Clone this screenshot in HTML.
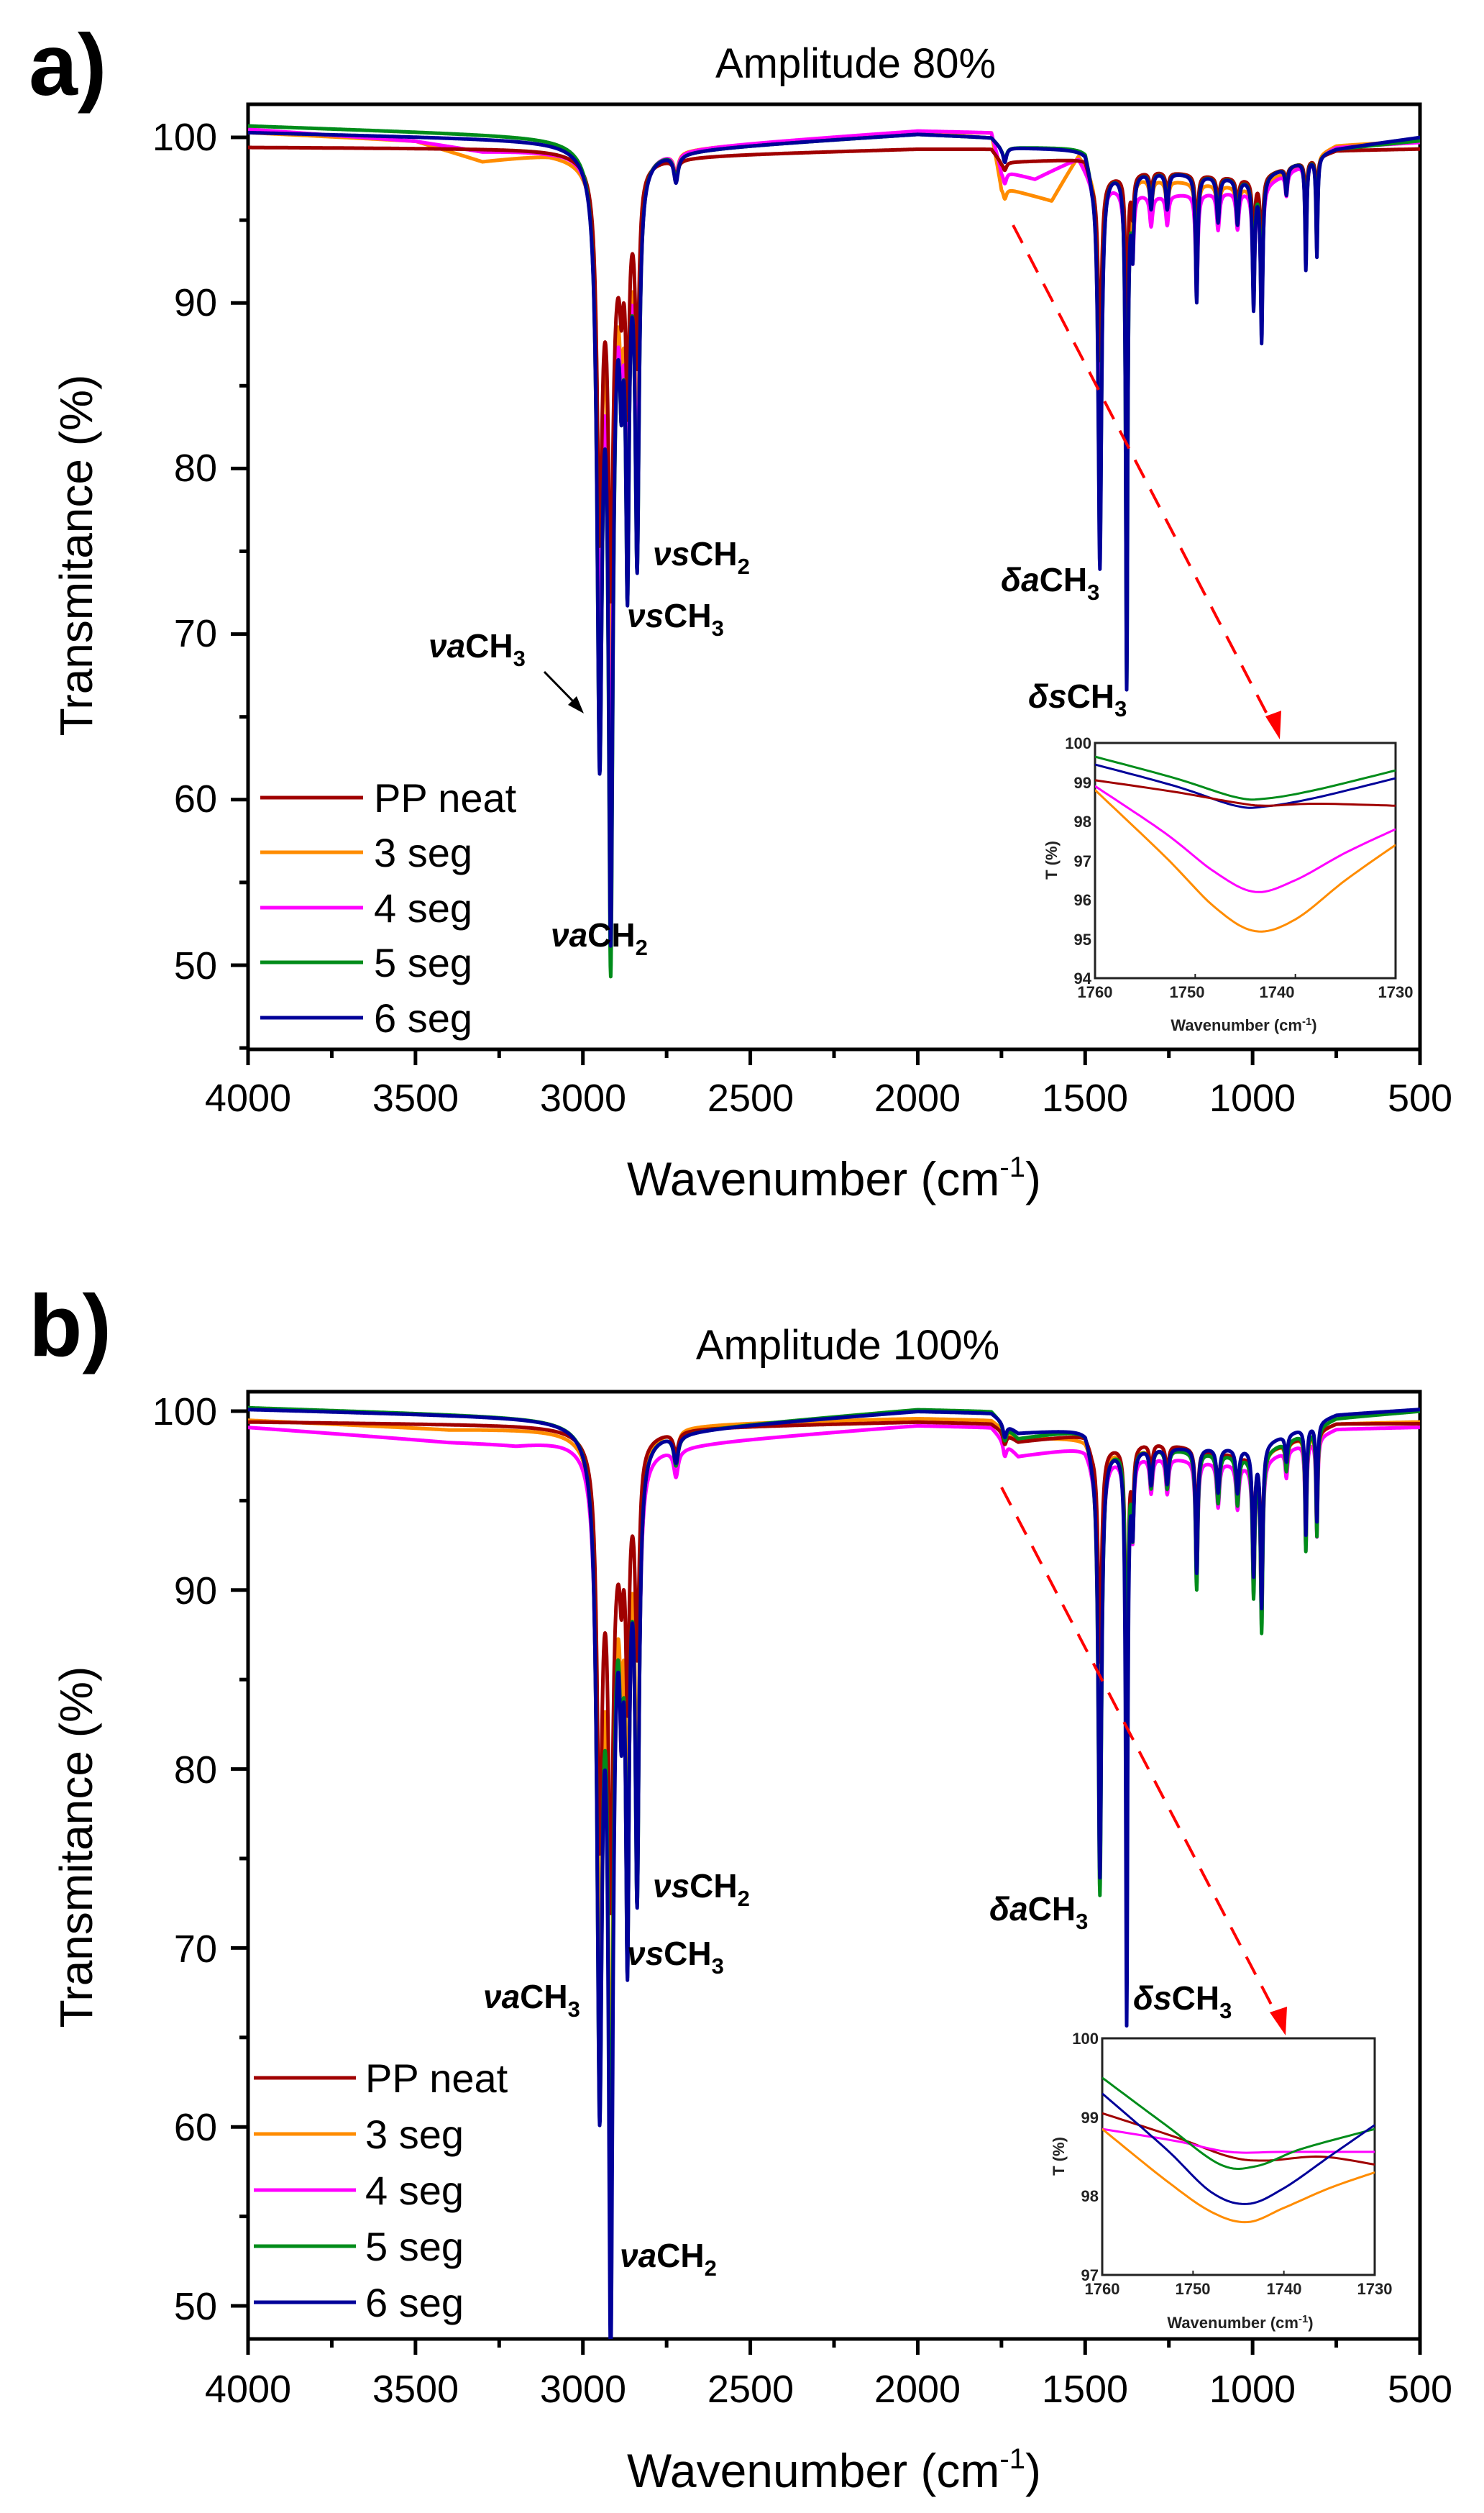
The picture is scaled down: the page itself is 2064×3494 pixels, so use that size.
<!DOCTYPE html>
<html><head><meta charset="utf-8">
<style>
html,body{margin:0;padding:0;background:#fff;}
svg{display:block;font-family:"Liberation Sans",Arial,sans-serif;}
</style></head>
<body>
<svg id="s" width="2064" height="3494" viewBox="0 0 2064 3494" xmlns="http://www.w3.org/2000/svg">
<defs>
<clipPath id="ca"><rect x="345" y="145" width="1630" height="1314"/></clipPath>
<clipPath id="cb"><rect x="345" y="1935" width="1630" height="1317"/></clipPath>
<clipPath id="cia"><rect x="1523" y="1033" width="418" height="327"/></clipPath>
<clipPath id="cib"><rect x="1533" y="2834" width="379" height="329"/></clipPath>
</defs>

<text x="40" y="132" font-size="122" font-weight="bold">a)</text>
<text x="1190" y="108" font-size="58" text-anchor="middle">Amplitude 80%</text>
<text transform="translate(128,772) rotate(-90)" font-size="64" text-anchor="middle">Transmitance (%)</text>
<text x="1160" y="1662" font-size="66" text-anchor="middle">Wavenumber (cm<tspan dy="-26" font-size="40">-1</tspan><tspan dy="26">)</tspan></text>

<text x="40" y="1885" font-size="122" font-weight="bold">b)</text>
<text x="1179" y="1890" font-size="58" text-anchor="middle">Amplitude 100%</text>
<text transform="translate(128,2568) rotate(-90)" font-size="64" text-anchor="middle">Transmitance (%)</text>
<text x="1160" y="3458" font-size="66" text-anchor="middle">Wavenumber (cm<tspan dy="-26" font-size="40">-1</tspan><tspan dy="26">)</tspan></text>

<g id="axes"></g>
<g id="data"></g>

<g font-size="46" font-weight="bold">
<text x="908" y="786"><tspan font-style="italic">νs</tspan>CH<tspan dy="12" font-size="31">2</tspan></text>
<text x="872" y="872"><tspan font-style="italic">νs</tspan>CH<tspan dy="12" font-size="31">3</tspan></text>
<text x="596" y="914"><tspan font-style="italic">νa</tspan>CH<tspan dy="12" font-size="31">3</tspan></text>
<text x="766" y="1316"><tspan font-style="italic">νa</tspan>CH<tspan dy="12" font-size="31">2</tspan></text>
<text x="1392" y="822"><tspan font-style="italic">δa</tspan>CH<tspan dy="12" font-size="31">3</tspan></text>
<text x="1430" y="984"><tspan font-style="italic">δs</tspan>CH<tspan dy="12" font-size="31">3</tspan></text>
</g>
<line x1="757" y1="934" x2="800" y2="978" stroke="#000" stroke-width="3"/>
<polygon points="812,992 790,980 802,968" fill="#000"/>

<g font-size="46" font-weight="bold">
<text x="908" y="2638"><tspan font-style="italic">νs</tspan>CH<tspan dy="12" font-size="31">2</tspan></text>
<text x="872" y="2732"><tspan font-style="italic">νs</tspan>CH<tspan dy="12" font-size="31">3</tspan></text>
<text x="672" y="2792"><tspan font-style="italic">νa</tspan>CH<tspan dy="12" font-size="31">3</tspan></text>
<text x="862" y="3152"><tspan font-style="italic">νa</tspan>CH<tspan dy="12" font-size="31">2</tspan></text>
<text x="1376" y="2670"><tspan font-style="italic">δa</tspan>CH<tspan dy="12" font-size="31">3</tspan></text>
<text x="1576" y="2794"><tspan font-style="italic">δs</tspan>CH<tspan dy="12" font-size="31">3</tspan></text>
</g>

<line x1="1409" y1="313" x2="1768" y2="1004" stroke="#ff0000" stroke-width="4" stroke-dasharray="28,18"/>
<polygon points="1780,1028 1760,996 1782,988" fill="#ff0000"/>
<line x1="1393" y1="2068" x2="1778" y2="2806" stroke="#ff0000" stroke-width="4" stroke-dasharray="28,18"/>
<polygon points="1788,2830 1766,2798 1790,2790" fill="#ff0000"/>

<g font-size="56">
<line x1="362" y1="1109" x2="505" y2="1109" stroke="#a00000" stroke-width="5"/><text x="520" y="1129">PP neat</text>
<line x1="362" y1="1185" x2="505" y2="1185" stroke="#ff8c00" stroke-width="5"/><text x="520" y="1205">3 seg</text>
<line x1="362" y1="1262" x2="505" y2="1262" stroke="#ff00ff" stroke-width="5"/><text x="520" y="1282">4 seg</text>
<line x1="362" y1="1338" x2="505" y2="1338" stroke="#008c1a" stroke-width="5"/><text x="520" y="1358">5 seg</text>
<line x1="362" y1="1415" x2="505" y2="1415" stroke="#000099" stroke-width="5"/><text x="520" y="1435">6 seg</text>

<line x1="353" y1="2889" x2="495" y2="2889" stroke="#a00000" stroke-width="5"/><text x="508" y="2909">PP neat</text>
<line x1="353" y1="2967" x2="495" y2="2967" stroke="#ff8c00" stroke-width="5"/><text x="508" y="2987">3 seg</text>
<line x1="353" y1="3045" x2="495" y2="3045" stroke="#ff00ff" stroke-width="5"/><text x="508" y="3065">4 seg</text>
<line x1="353" y1="3123" x2="495" y2="3123" stroke="#008c1a" stroke-width="5"/><text x="508" y="3143">5 seg</text>
<line x1="353" y1="3201" x2="495" y2="3201" stroke="#000099" stroke-width="5"/><text x="508" y="3221">6 seg</text>
</g>

<rect x="1523" y="1033" width="418" height="327" fill="#fff" stroke="#222" stroke-width="3"/>
<rect x="1533" y="2834" width="379" height="329" fill="#fff" stroke="#222" stroke-width="3"/>
<g id="inset"></g>
<g font-size="22" font-weight="bold" fill="#222">
<text x="1518" y="1041" text-anchor="end">100</text>
<text x="1518" y="1096" text-anchor="end">99</text>
<text x="1518" y="1150" text-anchor="end">98</text>
<text x="1518" y="1205" text-anchor="end">97</text>
<text x="1518" y="1259" text-anchor="end">96</text>
<text x="1518" y="1314" text-anchor="end">95</text>
<text x="1518" y="1368" text-anchor="end">94</text>
<text x="1523" y="1387" text-anchor="middle">1760</text>
<text x="1651" y="1387" text-anchor="middle">1750</text>
<text x="1776" y="1387" text-anchor="middle">1740</text>
<text x="1941" y="1387" text-anchor="middle">1730</text>
<text x="1730" y="1433" text-anchor="middle">Wavenumber (cm<tspan dy="-8" font-size="15">-1</tspan><tspan dy="8">)</tspan></text>
<text transform="translate(1470,1196) rotate(-90)" text-anchor="middle">T (%)</text>

<text x="1528" y="2842" text-anchor="end">100</text>
<text x="1528" y="2952" text-anchor="end">99</text>
<text x="1528" y="3061" text-anchor="end">98</text>
<text x="1528" y="3171" text-anchor="end">97</text>
<text x="1533" y="3190" text-anchor="middle">1760</text>
<text x="1659" y="3190" text-anchor="middle">1750</text>
<text x="1786" y="3190" text-anchor="middle">1740</text>
<text x="1912" y="3190" text-anchor="middle">1730</text>
<text x="1725" y="3237" text-anchor="middle">Wavenumber (cm<tspan dy="-8" font-size="15">-1</tspan><tspan dy="8">)</tspan></text>
<text transform="translate(1480,2998) rotate(-90)" text-anchor="middle">T (%)</text>
</g>

<g font-size="54" text-anchor="end">
<text x="302" y="209">100</text><text x="302" y="439">90</text><text x="302" y="669">80</text><text x="302" y="899">70</text><text x="302" y="1129">60</text><text x="302" y="1361">50</text>
<text x="302" y="1981">100</text><text x="302" y="2230">90</text><text x="302" y="2479">80</text><text x="302" y="2728">70</text><text x="302" y="2976">60</text><text x="302" y="3225">50</text>
</g>
<g font-size="54" text-anchor="middle">
<text x="345" y="1545">4000</text><text x="578" y="1545">3500</text><text x="811" y="1545">3000</text><text x="1044" y="1545">2500</text><text x="1276" y="1545">2000</text><text x="1509" y="1545">1500</text><text x="1742" y="1545">1000</text><text x="1975" y="1545">500</text>
<text x="345" y="3340">4000</text><text x="578" y="3340">3500</text><text x="811" y="3340">3000</text><text x="1044" y="3340">2500</text><text x="1276" y="3340">2000</text><text x="1509" y="3340">1500</text><text x="1742" y="3340">1000</text><text x="1975" y="3340">500</text>
</g>
</svg>
<script>
(function(){
var NS="http://www.w3.org/2000/svg";
function el(parent,tag,attrs){var e=document.createElementNS(NS,tag);for(var k in attrs)e.setAttribute(k,attrs[k]);parent.appendChild(e);return e;}
var axes=document.getElementById('axes'),data=document.getElementById('data'),inset=document.getElementById('inset');
var X0=345,X1=1975;
function xm(w){return X0+(4000-w)/3500*(X1-X0);}
var P=[{top:145,bot:1459,y100:191,y50:1342,clip:'ca'},{top:1935,bot:3252,y100:1962,y50:3206,clip:'cb'}];
P.forEach(function(p){
  el(axes,'rect',{x:X0,y:p.top,width:X1-X0,height:p.bot-p.top,fill:'none',stroke:'#000','stroke-width':5});
  for(var w=4000;w>=500;w-=250){var x=xm(w);var major=(w%500==0);el(axes,'line',{x1:x,y1:p.bot,x2:x,y2:p.bot+(major?22:12),stroke:'#000','stroke-width':5});}
  var per=(p.y50-p.y100)/50;
  for(var v=45;v<=100;v+=5){var y=p.y100+(100-v)*per;if(y>p.bot||y<p.top)continue;var major=(v%10==0);el(axes,'line',{x1:X0,y1:y,x2:X0-(major?24:12),y2:y,stroke:'#000','stroke-width':5});}
});
function interp(pts,w){for(var i=0;i<pts.length-1;i++){var a=pts[i],b=pts[i+1];if(w<=a[0]&&w>=b[0]){var t=(a[0]-w)/(a[0]-b[0]);return a[1]+(b[1]-a[1])*t;}}return pts[pts.length-1][1];}
var fpPeaks=[[2722,1.5,8],[1740,0.8,6],[1358,4,4],[1303,2,5],[1255,2,5],[1167,7,4],[1103,2.5,5],[1045,2.5,5],[997,7,4],[973,9,4],[899,1.5,4],[841,6,3],[808,5.5,3]];
function spec(base,st,de,fp){
  var pk=[[2950,st[0],9],[2917,st[1],8],[2867,st[2],6],[2838,st[3],7],[2885,st[2]*0.35,6],[2900,4,40],[1456,de[0],6],[1376,de[1],3.5]];
  fpPeaks.forEach(function(q){pk.push([q[0],q[1]*fp,q[2]]);});
  return function(w){var v=interp(base,w);for(var i=0;i<pk.length;i++){var d=(w-pk[i][0])/pk[i][2];v-=pk[i][1]/(1+d*d);}return v;};
}
var C={r:'#a00000',o:'#ff8c00',m:'#ff00ff',g:'#008c1a',b:'#000099'};
var A=[
 ['o',spec([[4000,100.3],[3500,99.8],[3300,98.6],[3100,99.1],[3000,99],[2700,99.4],[2000,100.3],[1780,100.3],[1750,97],[1600,96.2],[1520,99],[1480,98],[1300,97.5],[1000,97],[750,99.5],[500,99.8]],[21,29,18,18],[15,20],0.8)],
 ['m',spec([[4000,100.5],[3500,99.8],[3300,99.2],[3100,99.3],[3000,99.5],[2700,99.4],[2000,100.4],[1780,100.3],[1750,98],[1650,97.5],[1520,98.8],[1480,97.5],[1300,96.5],[1000,96.8],[750,99.4],[500,99.7]],[28,38,20,21],[14,22],0.9)],
 ['r',spec([[4000,99.4],[3000,99.3],[2700,98.9],[2000,99.3],[1780,99.3],[1750,98.5],[1500,98.7],[1480,97.5],[1300,98],[1000,97.5],[750,99.2],[500,99.3]],[21,22,12,11],[11,12],0.6)],
 ['g',spec([[4000,100.7],[3000,100],[2700,99.3],[2000,100.2],[1780,100],[1750,99.4],[1500,99.4],[1480,98],[1300,98],[1000,97.5],[750,99.3],[500,99.8]],[34,44,22,23],[23,31],1)],
 ['b',spec([[4000,100.3],[3000,99.8],[2700,99.3],[2000,100.2],[1780,100],[1750,99.4],[1500,99.3],[1480,98],[1300,98],[1000,97.5],[750,99.3],[500,100]],[34,42,22,23],[24,31],1.1)]
];
var B=[
 ['m',spec([[4000,99.1],[3400,98.3],[3200,98.2],[3000,98.7],[2700,98.2],[2000,99.2],[1780,99.1],[1700,97.5],[1500,98],[1480,97.5],[1300,97.5],[1000,97],[750,99],[500,99.1]],[32,40,24,22],[21,23],1)],
 ['o',spec([[4000,99.5],[3400,99],[3000,99.1],[2700,99.3],[2000,99.6],[1780,99.5],[1700,98.5],[1500,98.5],[1480,98],[1300,98],[1000,97.5],[750,99.3],[500,99.4]],[28,36,20,20],[18,22],1)],
 ['r',spec([[4000,99.4],[3000,99.2],[2700,99.1],[2000,99.4],[1780,99.3],[1700,98.3],[1500,98.7],[1480,98],[1300,98.3],[1000,97.5],[750,99.3],[500,99.3]],[21,22,12,11],[12,21],0.8)],
 ['g',spec([[4000,100.2],[3000,99.6],[2700,99],[2000,100.1],[1780,100],[1700,98.5],[1500,99],[1480,98],[1300,98],[1000,97.5],[750,99.6],[500,100]],[35,40,25,24],[25,22],1.1)],
 ['b',spec([[4000,100.1],[3000,99.6],[2700,99],[2000,100],[1780,99.9],[1700,98.8],[1500,99],[1480,98],[1300,98],[1000,98],[750,99.8],[500,100.1]],[35,46,25,24],[24,32],1)]
];
[A,B].forEach(function(set,pi){
  var p=P[pi],per=(p.y50-p.y100)/50;
  var g=el(data,'g',{'clip-path':'url(#'+p.clip+')'});
  set.forEach(function(s){
    var d='';for(var w=4000;w>=500;w-=1){var v=s[1](w);d+=(w==4000?'M':'L')+xm(w).toFixed(1)+','+(p.y100+(100-v)*per).toFixed(1);}
    el(g,'path',{d:d,fill:'none',stroke:C[s[0]],'stroke-width':5,'stroke-linejoin':'round'});
  });
});
function cr(pts,n){var out=[];for(var i=0;i<pts.length-1;i++){var p0=pts[Math.max(i-1,0)],p1=pts[i],p2=pts[i+1],p3=pts[Math.min(i+2,pts.length-1)];for(var k=0;k<n;k++){var t=k/n,t2=t*t,t3=t2*t;out.push([0,1].map(function(j){return 0.5*((2*p1[j])+(-p0[j]+p2[j])*t+(2*p0[j]-5*p1[j]+4*p2[j]-p3[j])*t2+(-p0[j]+3*p1[j]-3*p2[j]+p3[j])*t3);}));}}out.push(pts[pts.length-1]);return out;}
var IA={x0:1523,x1:1941,y0:1033,y1:1360,lo:94,hi:100,clip:'cia',s:[
 ['g',[[1760,99.65],[1752,99.1],[1746,98.62],[1743,98.58],[1738,98.8],[1730,99.3]]],
 ['b',[[1760,99.45],[1752,98.9],[1746,98.4],[1743,98.38],[1738,98.6],[1730,99.1]]],
 ['r',[[1760,99.05],[1752,98.75],[1746,98.48],[1743,98.4],[1738,98.45],[1730,98.4]]],
 ['m',[[1760,98.9],[1753,97.7],[1748,96.7],[1744,96.2],[1740,96.5],[1735,97.2],[1730,97.8]]],
 ['o',[[1760,98.8],[1753,97.1],[1748,95.8],[1744,95.2],[1740,95.5],[1735,96.5],[1730,97.4]]]]};
var IB={x0:1533,x1:1912,y0:2834,y1:3163,lo:97,hi:100,clip:'cib',s:[
 ['r',[[1760,99.05],[1752,98.75],[1746,98.5],[1742,98.45],[1736,98.5],[1730,98.4]]],
 ['m',[[1760,98.85],[1752,98.7],[1746,98.56],[1740,98.56],[1730,98.56]]],
 ['g',[[1760,99.5],[1753,98.9],[1747,98.4],[1743,98.38],[1738,98.6],[1730,98.85]]],
 ['b',[[1760,99.3],[1753,98.6],[1748,98.05],[1744,97.9],[1740,98.1],[1735,98.5],[1730,98.9]]],
 ['o',[[1760,98.85],[1753,98.2],[1748,97.8],[1744,97.67],[1740,97.85],[1735,98.1],[1730,98.3]]]]};
[IA,IB].forEach(function(I){
  var g=el(inset,'g',{'clip-path':'url(#'+I.clip+')'});
  I.s.forEach(function(s){
    var pts=cr(s[1],12),d='';
    pts.forEach(function(q,i){var x=I.x0+(1760-q[0])/30*(I.x1-I.x0),y=I.y0+(I.hi-q[1])/(I.hi-I.lo)*(I.y1-I.y0);d+=(i?'L':'M')+x.toFixed(1)+','+y.toFixed(1);});
    el(g,'path',{d:d,fill:'none',stroke:C[s[0]],'stroke-width':3});
  });
  for(var k=0;k<=3;k++){var x=I.x0+k/3*(I.x1-I.x0);el(inset,'line',{x1:x,y1:I.y1,x2:x,y2:I.y1-6,stroke:'#222','stroke-width':2});}
});
})();
</script>
</body></html>
